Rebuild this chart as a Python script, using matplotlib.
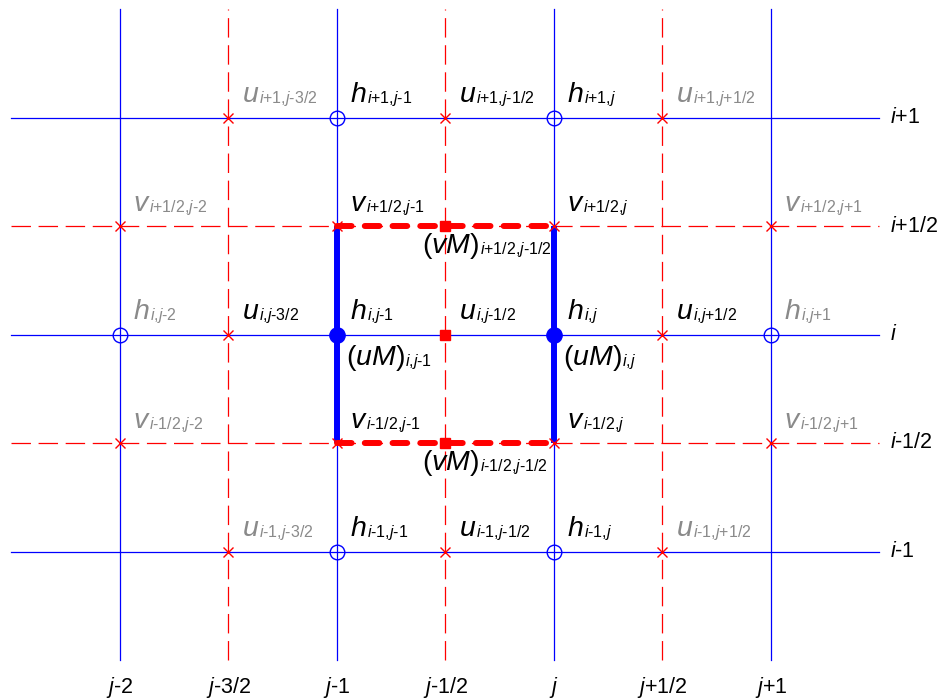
import matplotlib
matplotlib.use("Agg")
import matplotlib.pyplot as plt

plt.rcParams['mathtext.fontset'] = 'custom'
plt.rcParams['mathtext.rm'] = 'Liberation Sans'
plt.rcParams['mathtext.it'] = 'Liberation Sans:italic'
plt.rcParams['mathtext.bf'] = 'Liberation Sans:bold'
plt.rcParams['font.family'] = ['Liberation Sans', 'DejaVu Sans']
plt.rcParams['lines.scale_dashes'] = False

# ---- data ----
col_full = [-2, -1, 0, 1]          # h / v columns
col_half = [-1.5, -0.5, 0.5]       # u columns
row_full = [1, 0, -1]              # h / u rows
row_half = [0.5, -0.5]             # v rows
col_pos = [-2, -1.5, -1, -0.5, 0, 0.5, 1]
col_labels = ['j-2', 'j-3/2', 'j-1', 'j-1/2', 'j', 'j+1/2', 'j+1']
row_pos = [1, 0.5, 0, -0.5, -1]
row_labels = ['i+1', 'i+1/2', 'i', 'i-1/2', 'i-1']

h_open = [(-1, 1), (0, 1), (-2, 0), (1, 0), (-1, -1), (0, -1)]
h_filled = [(-1, 0), (0, 0)]
u_cross = [(-1.5, 1), (-0.5, 1), (0.5, 1), (-1.5, 0), (0.5, 0),
           (-1.5, -1), (-0.5, -1), (0.5, -1)]
v_cross = [(-2, 0.5), (-1, 0.5), (0, 0.5), (1, 0.5),
           (-2, -0.5), (-1, -0.5), (0, -0.5), (1, -0.5)]
flux_pts = [(-0.5, 0), (-0.5, 0.5), (-0.5, -0.5)]

BLACK = 'black'
GREY = '#8a8a8a'
# (x, y, letter, subscript, colour)
var_labels = [
    (-1.5, 1, 'u', 'i+1,j-3/2', GREY),
    (-1, 1, 'h', 'i+1,j-1', BLACK),
    (-0.5, 1, 'u', 'i+1,j-1/2', BLACK),
    (0, 1, 'h', 'i+1,j', BLACK),
    (0.5, 1, 'u', 'i+1,j+1/2', GREY),
    (-2, 0.5, 'v', 'i+1/2,j-2', GREY),
    (-1, 0.5, 'v', 'i+1/2,j-1', BLACK),
    (0, 0.5, 'v', 'i+1/2,j', BLACK),
    (1, 0.5, 'v', 'i+1/2,j+1', GREY),
    (-2, 0, 'h', 'i,j-2', GREY),
    (-1.5, 0, 'u', 'i,j-3/2', BLACK),
    (-1, 0, 'h', 'i,j-1', BLACK),
    (-0.5, 0, 'u', 'i,j-1/2', BLACK),
    (0, 0, 'h', 'i,j', BLACK),
    (0.5, 0, 'u', 'i,j+1/2', BLACK),
    (1, 0, 'h', 'i,j+1', GREY),
    (-2, -0.5, 'v', 'i-1/2,j-2', GREY),
    (-1, -0.5, 'v', 'i-1/2,j-1', BLACK),
    (0, -0.5, 'v', 'i-1/2,j', BLACK),
    (1, -0.5, 'v', 'i-1/2,j+1', GREY),
    (-1.5, -1, 'u', 'i-1,j-3/2', GREY),
    (-1, -1, 'h', 'i-1,j-1', BLACK),
    (-0.5, -1, 'u', 'i-1,j-1/2', BLACK),
    (0, -1, 'h', 'i-1,j', BLACK),
    (0.5, -1, 'u', 'i-1,j+1/2', GREY),
]
flux_labels = [
    (-1, 0, 'uM', 'i,j-1'),
    (0, 0, 'uM', 'i,j'),
    (-0.5, 0.5, 'vM', 'i+1/2,j-1/2'),
    (-0.5, -0.5, 'vM', 'i-1/2,j-1/2'),
]

# ---- helpers ----
def mt(s):
    """italic i/j, upright rest"""
    out = ''
    buf = ''
    for ch in s:
        if ch in 'ij':
            if buf:
                out += r'\text{' + buf + '}'
                buf = ''
            out += ch
        else:
            buf += ch
    if buf:
        out += r'\text{' + buf + '}'
    return '$' + out + '$'

fig = plt.figure(figsize=(9.45, 7.0), dpi=100)
ax = fig.add_axes([0, 0, 1, 1])
ax.set_xlim(-554 / 217, 391 / 217)
ax.set_ylim(-365.5 / 217, 334.5 / 217)
ax.axis('off')
renderer = fig.canvas.get_renderer()

BLUE = '#0000ff'
RED = '#ff0000'
YTOP, YBOT = 1.5, -1.5
XL, XR = -2.5, 1.5
thin_dash = (0, (14, 5.5))

for c in col_full:
    ax.plot([c, c], [YBOT, YTOP], color=BLUE, lw=0.9, zorder=1)
for c in col_half:
    ax.plot([c, c], [YBOT, YTOP], color=RED, lw=0.9, ls=thin_dash, zorder=1)
for r in row_full:
    ax.plot([XL, XR], [r, r], color=BLUE, lw=0.9, zorder=1)
for r in row_half:
    ax.plot([XL, XR], [r, r], color=RED, lw=0.9, ls=thin_dash, zorder=1)

# control-volume edges
for c in [-1, 0]:
    ax.plot([c, c], [-0.5, 0.5], color=BLUE, lw=4.3, zorder=2, solid_capstyle='butt')
for r in [0.5, -0.5]:
    ax.plot([-1, 0], [r, r], color=RED, lw=4.3, ls=(0, (10.5, 9.5)), zorder=2,
            dash_capstyle='round')

# markers
ax.plot([p[0] for p in h_open], [p[1] for p in h_open], 'o', ms=10.5,
        mfc='none', mec=BLUE, mew=1.0, zorder=3)
ax.plot([p[0] for p in h_filled], [p[1] for p in h_filled], 'o', ms=11,
        mfc=BLUE, mec=BLUE, zorder=3)
pts = u_cross + v_cross
ax.plot([p[0] for p in pts], [p[1] for p in pts], 'x', ms=7.5,
        mec=RED, mew=1.0, zorder=3)
ax.plot([p[0] for p in flux_pts], [p[1] for p in flux_pts], 's', ms=7.5,
        mfc=RED, mec=RED, zorder=3)

inv = ax.transData.inverted()

def label(x, y, main, sub, color, gap=0.0, drop=1.0):
    t = ax.text(x, y, main, fontsize=20.5, color=color, ha='left', va='baseline', zorder=4)
    bb = t.get_window_extent(renderer=renderer)
    px, py = ax.transData.transform((x, y))
    sx, sy = inv.transform((bb.x1 + gap, py - drop))
    ax.text(sx, sy, mt(sub), fontsize=11.5, color=color, ha='left', va='baseline', zorder=4)

DX, DY = 0.06, 0.07
for (x, y, m, s, c) in var_labels:
    g = -2.0 if m == 'v' else 0.0
    label(x + DX, y + DY, '$' + m + '$', s, c, gap=g)

for (x, y, m, s) in flux_labels:
    if m == 'uM':
        label(x + 0.04, y - 0.14, r'$\text{(}' + m + r'\text{)}$', s, BLACK)
    else:
        label(x - 0.106, y - 0.125, r'$\text{(}' + m + r'\text{)}$', s, BLACK)

for p, l in zip(col_pos, col_labels):
    ax.text(p, -1.652, mt(l), fontsize=15.5, ha='center', va='baseline', color='black')
for p, l in zip(row_pos, row_labels):
    ax.text(1.548, p, mt(l), fontsize=15.5, ha='left', va='center', color='black')

fig.savefig('out.png', dpi=100)
